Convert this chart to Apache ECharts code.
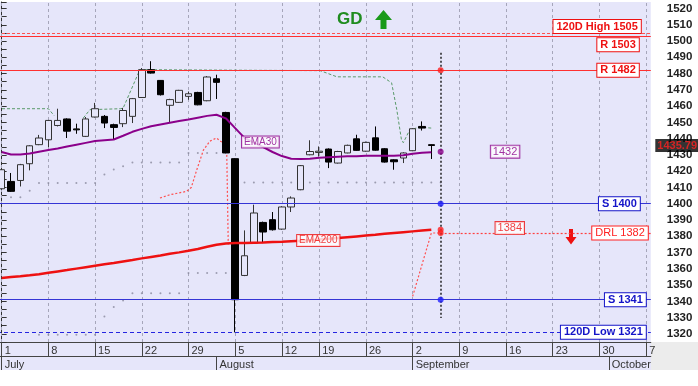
<!DOCTYPE html>
<html><head><meta charset="utf-8">
<script src="https://cdn.jsdelivr.net/npm/echarts@6/dist/echarts.min.js"></script>
<style>html,body{margin:0;padding:0;background:#fff}#c{width:698px;height:386px}</style>
</head><body><div id="c"></div>
<script>
// ---------- DATA ----------
const dates = [
 '2024-07-01','2024-07-02','2024-07-03','2024-07-04','2024-07-05',
 '2024-07-08','2024-07-09','2024-07-10','2024-07-11','2024-07-12',
 '2024-07-15','2024-07-16','2024-07-17','2024-07-18','2024-07-19',
 '2024-07-22','2024-07-23','2024-07-24','2024-07-25','2024-07-26',
 '2024-07-29','2024-07-30','2024-07-31','2024-08-01','2024-08-02',
 '2024-08-05','2024-08-06','2024-08-07','2024-08-08','2024-08-09',
 '2024-08-12','2024-08-13','2024-08-14','2024-08-16',
 '2024-08-19','2024-08-20','2024-08-21','2024-08-22','2024-08-23',
 '2024-08-26','2024-08-27','2024-08-28','2024-08-29','2024-08-30',
 '2024-09-02','2024-09-03','2024-09-04','2024-09-05','2024-09-06',
 '2024-09-09','2024-09-10','2024-09-11','2024-09-12','2024-09-13',
 '2024-09-16','2024-09-17','2024-09-18','2024-09-19','2024-09-20',
 '2024-09-23','2024-09-24','2024-09-25','2024-09-26','2024-09-27',
 '2024-09-30','2024-10-01','2024-10-02','2024-10-03','2024-10-04',
 '2024-10-07'
];
const monthNames = ['January','February','March','April','May','June','July','August','September','October','November','December'];

// [open, close, low, high]
const candles = [
 [1409.2,1420.9,1408.5,1421.5],[1413.7,1407.6,1407.2,1418.9],[1414.3,1424.0,1410.6,1424.5],
 [1424.6,1435.6,1420.5,1436.0],[1436.3,1440.4,1436.0,1442.3],[1439.3,1451.2,1434.8,1451.5],
 [1448.1,1451.2,1447.5,1458.4],[1452.1,1444.6,1440.4,1452.5],[1446.0,1445.4,1443.0,1449.2],
 [1441.4,1452.1,1441.0,1453.3],[1453.3,1458.4,1453.0,1462.0],[1453.7,1449.6,1446.5,1454.5],
 [1448.6,1446.9,1439.3,1449.2],[1449.2,1457.3,1447.1,1458.9],[1453.7,1464.6,1449.6,1465.0],
 [1465.3,1482.4,1465.0,1483.4],[1482.4,1480.3,1480.0,1487.6],[1475.8,1467.0,1466.5,1476.0],
 [1460.5,1464.0,1450.2,1464.5],[1462.3,1469.7,1462.0,1470.0],[1466.0,1467.6,1463.9,1469.0],
 [1468.4,1460.8,1460.5,1468.8],[1463.3,1477.9,1463.0,1478.5],[1476.8,1474.6,1464.4,1479.3],
 [1456.1,1431.2,1431.0,1456.5],[1427.7,1341.0,1320.9,1428.0],[1355.9,1368.0,1355.5,1383.6],
 [1375.8,1394.3,1375.5,1399.4],[1388.5,1382.6,1375.8,1389.0],[1390.2,1384.0,1383.5,1394.9],
 [1384.4,1398.0,1384.0,1398.5],[1398.0,1403.5,1394.9,1404.5],[1408.6,1423.4,1408.3,1423.8],
 [1430.1,1432.1,1429.8,1439.0],[1431.5,1432.3,1429.0,1435.2],[1433.6,1425.6,1421.9,1434.0],
 [1425.0,1432.1,1424.7,1432.5],[1431.2,1435.9,1431.0,1436.3],[1439.9,1432.8,1432.5,1442.4],
 [1432.3,1437.7,1432.0,1438.2],[1440.5,1432.9,1432.6,1447.5],[1433.8,1425.6,1425.3,1434.2],
 [1427.0,1425.8,1420.9,1427.3],[1428.1,1431.2,1425.0,1431.6],[1432.6,1446.1,1432.3,1446.5],
 [1447.5,1446.5,1445.0,1450.6],[1436.3,1435.79,1427.5,1436.5]
];
const ema30 = [
 1431.8,1430.3,1430.3,1430.9,1432.0,1433.0,1434.0,1435.2,1436.3,1437.4,
 1438.5,1439.0,1439.5,1441.8,1444.2,1446.0,1447.6,1448.7,1449.8,1450.8,
 1451.8,1452.9,1454.0,1454.7,1452.5,1446.5,1440.5,1437.5,1434.8,1431.8,
 1429.3,1427.6,1427.5,1427.6,1428.3,1428.6,1428.9,1429.2,1429.2,1429.5,
 1429.5,1429.5,1429.5,1429.8,1430.7,1431.3,1431.7
];
const ema200 = [
 1354.4,1354.9,1355.4,1356.0,1356.7,1357.6,1358.4,1359.2,1360.1,1361.0,
 1361.9,1362.8,1363.6,1364.5,1365.4,1366.4,1367.3,1368.2,1369.2,1370.1,
 1371.1,1372.2,1373.5,1374.8,1375.6,1375.8,1375.9,1376.0,1376.1,1376.4,
 1376.6,1376.9,1377.2,1377.6,1378.0,1378.4,1378.9,1379.4,1379.9,1380.4,
 1380.9,1381.5,1382.0,1382.5,1383.0,1383.5,1384.0
];
// trailing stop lines: [day position, value]
const greenStop1 = [[-0.5,1458.4],[5,1458.4],[5.63,1454.1]];
const greenStop2 = [[8.74,1452.7],[9.45,1457.8],[12.7,1458.4],[13.0,1458.7],[14.8,1482.4],[34.1,1481.8],
 [35.9,1478.0],[40.8,1478.0],[41.75,1474.3],[42.3,1457.9],[42.8,1439.5],[43.0,1437.5],[43.7,1445.5],
 [44.4,1446.5],[45.1,1446.9],[46.0,1446.5]];
const redStop1 = [[16.95,1403.5],[18,1405.5],[19.8,1407.6],[20.3,1410.0],[20.9,1421.0],[21.6,1433.0],
 [22.3,1438.5],[23.0,1440.4],[23.7,1437.3],[24.1,1431.2],[24.26,1375.0]];
const redStop2 = [[44,1343.0],[46,1382.0],[47,1382.0]];
const dotsUpper = [[1,1404],[2,1404],[3,1408],[4,1412.7],[5,1412.7],[6,1412.7],[7,1412.7],[8,1412.7],
 [9,1412.7],[10,1412.7],[11,1418],[12,1421],[13,1423],[14,1425.3],[15,1425.3],[16,1425.3],[17,1425.3],
 [18,1425.3],[19,1425.3],[20,1431.2],[21,1431.2],[22,1431.2],[23,1431.2],
 [26,1413.1],[27,1413.1],[28,1413.1],[29,1413.1],[30,1413.1],[31,1413.1],[32,1413.1],[33,1413.1],
 [34,1413.1],[35,1413.1],[36,1413.1],[37,1413.1],[38,1413.1],[39,1413.1],[40,1413.1],[41,1413.1],
 [42,1413.1],[43,1413.1],[44,1413.1],[45,1413.1],[46,1413.1],[47,1413.1]];
const dotsLower = [[4,1319.5],[5,1319.5],[6,1319.5],[7,1319.5],[8,1319.5],[9,1319.5],[10,1319.5],
 [11,1330.7],[12,1336.5],[13,1340.5],[14,1345],[15,1345],[16,1345],[17,1345],[18,1345],[19,1345],
 [20,1357.4],[21,1357.4],[22,1357.4],[23,1357.4],[24,1357.4]];
// levels
const high120 = 1505, low120 = 1321;
const resistance = [1503, 1482];
const support = [1400, 1341];
const drl = 1382;
const ema30Next = 1432, ema200Next = 1384;
const lastPrice = 1435.79;

// ---------- CHART ----------
const BG = '#e6e6fa';
const FONT = '"Liberation Sans", Arial, sans-serif';
const RED = '#ee1111', BLUE = '#1414c8', PURPLE = '#8b008b';
const wd = dates.map(d => { const p = d.split('-'); return new Date(+p[0], +p[1]-1, +p[2]).getDay(); });
const weekStart = dates.map((d,i) => i === 0 || wd[i] <= wd[i-1]);
const monthStart = dates.map((d,i) => i === 0 || d.slice(5,7) !== dates[i-1].slice(5,7));
const weekIdx = weekStart.map((w,i) => w ? i : -1).filter(i => i >= 0);
const nextDay = candles.length;
const N = dates.length;

function box(color, bold, size, dist, pos, text){
  return {show:true, position:pos, distance:dist, formatter:text, color:color,
    fontFamily:FONT, fontSize:size||11, fontWeight: bold ? 'bold' : 'normal',
    backgroundColor:'#ffffff', borderColor:color, borderWidth:1, padding:[1,3,0,3], lineHeight:12};
}

const chart = echarts.init(document.getElementById('c'), null, {renderer:'canvas'});
const option = {
  animation:false,
  backgroundColor:'#ffffff',
  grid:{left:-3, right:47.2, top:2, bottom:44, show:true, backgroundColor:BG, borderWidth:0, containLabel:false, outerBoundsMode:'none'},
  xAxis:[
    {type:'category', data:dates, position:'bottom', boundaryGap:true,
     axisLine:{show:true, onZero:false, lineStyle:{color:'#444', width:1}},
     axisTick:{show:true, alignWithLabel:true, interval:(i)=>weekStart[i], length:14, lineStyle:{color:'#444'}},
     axisLabel:{show:true, interval:(i)=>weekStart[i], formatter:(v)=>String(parseInt(v.slice(8),10)),
       align:'left', padding:[0,0,0,3], margin:3, fontSize:11, color:'#333', fontFamily:FONT},
     splitLine:{show:false}},
    {type:'value', position:'top', min:-0.5, max:N-0.5, show:false},
    {type:'category', data:dates, position:'bottom', offset:14, boundaryGap:true,
     axisLine:{show:true, onZero:false, lineStyle:{color:'#444', width:1}},
     axisTick:{show:true, alignWithLabel:true, interval:(i)=>monthStart[i], length:14, lineStyle:{color:'#444'}},
     axisLabel:{show:true, interval:(i)=>monthStart[i], formatter:(v)=>monthNames[parseInt(v.slice(5,7),10)-1],
       align:'left', padding:[0,0,0,3], margin:3, fontSize:11, color:'#333', fontFamily:FONT},
     splitLine:{show:false}}
  ],
  yAxis:{type:'value', position:'right', min:1315, max:1524, interval:5, scale:true,
    axisLine:{show:true, lineStyle:{color:'#333', width:1}},
    axisTick:{show:true, length:5, lineStyle:{color:'#333'}},
    axisLabel:{formatter:(v)=> (Math.round(v)%10===0 ? String(v) : ''), margin:16, fontSize:11.5,
      fontWeight:'bold', color:'#222', fontFamily:FONT},
    splitLine:{show:false}},
  series:[
    {name:'grid', type:'line', xAxisIndex:1, data:[], silent:true, z:1,
     markLine:{silent:true, z:1, symbol:['none','none'], label:{show:false}, animation:false,
       lineStyle:{color:'#a6a6ba', type:[3,3], width:1}, data:weekIdx.map(i=>({xAxis:i}))}},
    {name:'dotsUpper', type:'scatter', xAxisIndex:1, data:dotsUpper, symbolSize:2, silent:true, z:2,
     itemStyle:{color:'#8a8a9e'}},
    {name:'dotsLower', type:'scatter', xAxisIndex:1, data:dotsLower, symbolSize:2, silent:true, z:2,
     itemStyle:{color:'#8a8a9e'}},
    {name:'g1', type:'line', xAxisIndex:1, data:greenStop1, showSymbol:false, silent:true, z:3,
     lineStyle:{color:'#5a9a6a', width:1, type:[3,2]}},
    {name:'g2', type:'line', xAxisIndex:1, data:greenStop2, showSymbol:false, silent:true, z:3,
     lineStyle:{color:'#5a9a6a', width:1, type:[3,2]}},
    {name:'r1', type:'line', xAxisIndex:1, data:redStop1, showSymbol:false, silent:true, z:3,
     lineStyle:{color:'#ff5050', width:1.2, type:[2,2]}},
    {name:'r2', type:'line', xAxisIndex:1, data:redStop2, showSymbol:false, silent:true, z:3,
     lineStyle:{color:'#ff5050', width:1.2, type:[2,2]}},
    {name:'price', type:'candlestick', xAxisIndex:0, data:candles, barWidth:7, silent:true, z:4,
     itemStyle:{color:BG, color0:'#000', borderColor:'#333', borderColor0:'#000', borderWidth:1}},
    {name:'EMA200', type:'line', xAxisIndex:1, data:ema200.map((v,i)=>[i,v]), showSymbol:false, silent:true, z:5,
     lineStyle:{color:'#ee1111', width:2.5}},
    {name:'EMA30', type:'line', xAxisIndex:1, data:ema30.map((v,i)=>[i,v]), showSymbol:false, silent:true, z:5,
     lineStyle:{color:PURPLE, width:2}},
    {name:'levels', type:'line', xAxisIndex:1, data:[], silent:true, z:6, clip:false,
     markLine:{silent:true, z:6, symbol:['none','none'], animation:false, data:[
       {yAxis:high120, lineStyle:{color:'#ff5050', type:[3,2], width:1}, label:box(RED,true,11,[10,0],'insideEndTop','120D High '+high120)},
       {yAxis:resistance[0], lineStyle:{color:'#ff3030', type:'solid', width:1.2}, label:box(RED,true,11,[12,2],'insideEndBottom','R '+resistance[0])},
       {yAxis:resistance[1], lineStyle:{color:'#ff3030', type:'solid', width:1.2}, label:box(RED,true,11,[12,0],'insideEnd','R '+resistance[1])},
       {yAxis:support[0], lineStyle:{color:'#3535d5', type:'solid', width:1.2}, label:box(BLUE,true,11,[11,0],'insideEnd','S '+support[0])},
       {yAxis:support[1], lineStyle:{color:'#3535d5', type:'solid', width:1.2}, label:box(BLUE,true,11,[5,0],'insideEnd','S '+support[1])},
       {yAxis:low120, lineStyle:{color:'#2525e0', type:[4,3], width:1.2}, label:box(BLUE,true,11,[5,0],'insideEnd','120D Low '+low120)},
       [{coord:[nextDay,drl], lineStyle:{color:'#ff4040', type:[2,2], width:1.2}, label:box('#ff2020',false,11,[3,0],'insideEnd','DRL '+drl)},
        {coord:[N-0.5,drl]}],
       [{coord:[nextDay,1492.8], lineStyle:{color:'#222', type:[2,2], width:1.5}, label:{show:false}},
        {coord:[nextDay,1329.8]}]
     ]}},
    {name:'nextDots', type:'scatter', xAxisIndex:1, symbolSize:6, silent:true, z:7, data:[
       {value:[nextDay,resistance[1]], itemStyle:{color:'#ff2020'}},
       {value:[nextDay,support[0]], itemStyle:{color:'#2020ff'}},
       {value:[nextDay,support[1]], itemStyle:{color:'#2020ff'}},
       {value:[nextDay,ema200Next], itemStyle:{color:'#ff2020'}},
       {value:[nextDay,drl], itemStyle:{color:'#ff2020'}},
       {value:[nextDay,ema30Next], itemStyle:{color:PURPLE}}
    ]},
    {name:'tags', type:'scatter', xAxisIndex:1, symbolSize:1, silent:true, z:8,
     itemStyle:{color:'rgba(0,0,0,0)'}, data:[
       {value:[27.7, ema30[27]+0.4], label:Object.assign(box(PURPLE,false,10,0,'inside','EMA30'),{padding:[1,2,0,2],lineHeight:10})},
       {value:[33.9, ema200[34]-0.6], label:Object.assign(box(RED,false,10,0,'inside','EMA200'),{padding:[1,2,0,2],lineHeight:10})},
       {value:[53.9, ema30Next], label:Object.assign(box(PURPLE,false,11,0,'inside',String(ema30Next)),{padding:[1,2,0,2],lineHeight:11})},
       {value:[54.4, ema200Next+1], label:Object.assign(box(RED,false,11,0,'inside',String(ema200Next)),{padding:[1,2,0,2],lineHeight:11})}
    ]},
    {name:'lastPrice', type:'scatter', xAxisIndex:1, symbolSize:1, silent:true, z:9, clip:false,
     itemStyle:{color:'rgba(0,0,0,0)'}, data:[
       {value:[N-0.5, lastPrice], label:{show:true, position:'right', distance:4, formatter:String(lastPrice),
         color:'#ff2020', backgroundColor:'#000', padding:[1,2,0,2], fontFamily:FONT, fontSize:11,
         fontWeight:'bold', lineHeight:12}}
    ]}
  ],
  graphic:[
    {type:'rect', z:-1, silent:true, shape:{x:0,y:342,width:651,height:28}, style:{fill:BG}},
    {type:'rect', z:-1, silent:true, shape:{x:651,y:342,width:47,height:28}, style:{fill:'#ececec'}},
    {type:'text', x:337, y:11, silent:true, style:{text:'GD', fill:'#1f8c1f', font:'bold 17px "Liberation Sans", Arial, sans-serif'}},
    {type:'polygon', silent:true, shape:{points:[[375,20],[383.5,10],[392,20],[386.5,20],[386.5,29],[380.5,29],[380.5,20]]}, style:{fill:'#1a9a1a'}},
    {type:'polygon', silent:true, shape:{points:[[569,229],[573,229],[573,237],[576.5,237],[571,244.5],[565.5,237],[569,237]]}, style:{fill:'#ee1111'}}
  ]
};
chart.setOption(option);
</script></body></html>
